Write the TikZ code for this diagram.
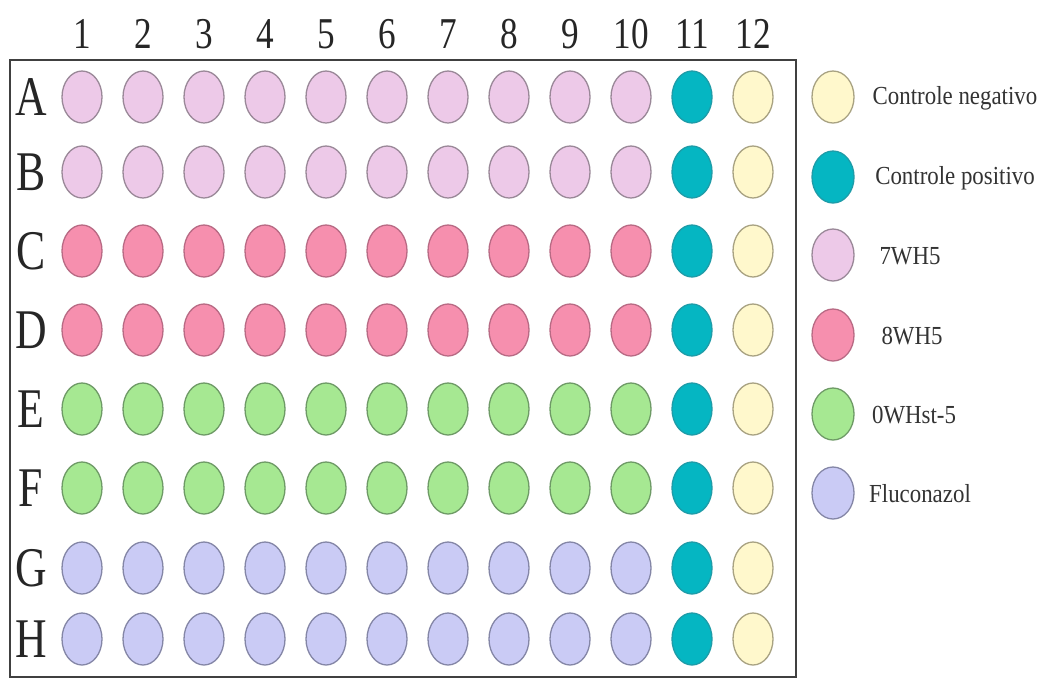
\documentclass[tikz,border=0pt]{standalone}
\usepackage{fontspec}
\setmainfont{Liberation Serif}
\usetikzlibrary{shapes.geometric}
\definecolor{cLil}{HTML}{EDC9E8}\definecolor{oLil}{HTML}{9A8898}
\definecolor{cPink}{HTML}{F68FAE}\definecolor{oPink}{HTML}{B86A84}
\definecolor{cGreen}{HTML}{A6E892}\definecolor{oGreen}{HTML}{6E9A66}
\definecolor{cLav}{HTML}{CACBF5}\definecolor{oLav}{HTML}{8486A6}
\definecolor{cTeal}{HTML}{05B6C2}\definecolor{oTeal}{HTML}{1E9CA8}
\definecolor{cYel}{HTML}{FFF8CC}\definecolor{oYel}{HTML}{A8A282}
\tikzset{
  well/.style={ellipse,minimum width=40pt,minimum height=52pt,inner sep=0pt,line width=1.3pt},
  lwell/.style={well,minimum width=42pt},
  collabel/.style={font=\fontsize{44}{44}\selectfont,xscale=0.8,inner sep=0pt,text=black!85},
  rowlabel/.style={font=\fontsize{56}{56}\selectfont,xscale=0.78,inner sep=0pt,text=black!85},
  legtext/.style={font=\fontsize{26}{26}\selectfont,xscale=0.88,inner sep=0pt,text=black!80},
}
\begin{document}
\begin{tikzpicture}[x=1pt,y=-1pt]
\useasboundingbox (0,0) rectangle (1048,678);
\fill[white] (0,0) rectangle (1048,678);
\node[draw=black!75,line width=2.5pt,minimum width=786pt,minimum height=617pt,inner sep=0pt] (plate) at (403,368.5) {};
% column labels
\foreach \c in {1,...,12}{
  \node[collabel] (col\c) at ({82+61*(\c-1)},34) {\c};
}
% rows
\foreach \r/\y/\fc/\oc in {A/97/cLil/oLil,B/172/cLil/oLil,C/251/cPink/oPink,D/330/cPink/oPink,E/409/cGreen/oGreen,F/488/cGreen/oGreen,G/568/cLav/oLav,H/639/cLav/oLav}{
  \node[rowlabel] (row\r) at (31,\y) {\r};
  \foreach \c in {1,...,10}{
    \node[well,fill=\fc,draw=\oc] (w\r\c) at ({82+61*(\c-1)},\y) {};
  }
  \node[well,fill=cTeal,draw=oTeal] (w\r11) at (692,\y) {};
  \node[well,fill=cYel,draw=oYel] (w\r12) at (753,\y) {};
}
% legend
\node[lwell,fill=cYel,draw=oYel] (l1) at (833,97) {};
\node[legtext] (t1) at (955,98) {Controle negativo};
\node[lwell,fill=cTeal,draw=oTeal] (l2) at (833,177) {};
\node[legtext] (t2) at (955,178) {Controle positivo};
\node[lwell,fill=cLil,draw=oLil] (l3) at (833,255) {};
\node[legtext] (t3) at (910,256) {7WH5};
\node[lwell,fill=cPink,draw=oPink] (l4) at (833,335) {};
\node[legtext] (t4) at (912,336) {8WH5};
\node[lwell,fill=cGreen,draw=oGreen] (l5) at (833,414) {};
\node[legtext] (t5) at (914,415) {0WHst-5};
\node[lwell,fill=cLav,draw=oLav] (l6) at (833,493) {};
\node[legtext] (t6) at (920,494) {Fluconazol};
\end{tikzpicture}
\end{document}
